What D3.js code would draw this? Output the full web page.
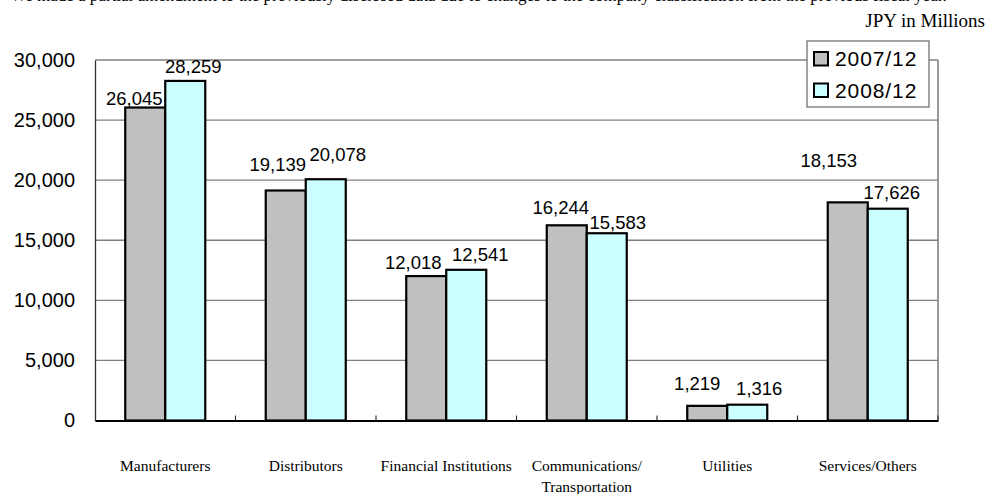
<!DOCTYPE html>
<html>
<head>
<meta charset="utf-8">
<script src="https://cdn.jsdelivr.net/npm/d3@7/dist/d3.min.js"></script>
<style>
  html, body { margin: 0; padding: 0; background: #fff; }
  svg { display: block; }
</style>
</head>
<body>
<svg id="chart" width="989" height="494"></svg>
<script>
// ---- data ----
const categories = ["Manufacturers", "Distributors", "Financial Institutions", "Communications/\nTransportation", "Utilities", "Services/Others"];
const seriesNames = ["2007/12", "2008/12"];
const values2007 = [26045, 19139, 12018, 16244, 1219, 18153];
const values2008 = [28259, 20078, 12541, 15583, 1316, 17626];
const yTicks = [0, 5000, 10000, 15000, 20000, 25000, 30000];
const unitLabel = "JPY in Millions";
const noteText = "*We made a partial amendment to the previously disclosed data due to changes to the company classification from the previous fiscal year.";

// ---- layout / style ----
const W = 989, H = 494;
const plot = { left: 95, right: 938, top: 60, bottom: 420.5 };
const colors = ["#c0c0c0", "#ccffff"];
// manual label nudges (dx, dy from bar-top centre), as placed in the original
const labelNudge = [
  [[-11, -2.5], [-8, -20], [-13, -7.5], [-6, -11], [-10, -15.5], [-19, -35]],
  [[8, -7.5], [12, -18.5], [14, -9], [11, -4], [12, -10], [4, -10]]
];

const svg = d3.select("#chart");

const x0 = d3.scaleBand().domain(d3.range(categories.length)).range([plot.left, plot.right]).padding(0);
const x1 = d3.scaleBand().domain([0, 1]).range([0, x0.bandwidth()]).paddingOuter(0.756).paddingInner(0);
const y = d3.scaleLinear().domain([0, 30000]).range([plot.bottom, plot.top]);

// note text at the top (mostly above the page edge, as in the original)
svg.append("text")
  .attr("x", 2).attr("y", 1)
  .attr("font-family", "Liberation Serif, Times New Roman, serif")
  .attr("font-size", 17)
  .attr("fill", "#000")
  .text(noteText);

// unit label
svg.append("text")
  .attr("x", 985).attr("y", 27)
  .attr("text-anchor", "end")
  .attr("font-family", "Liberation Serif, Times New Roman, serif")
  .attr("font-size", 19)
  .attr("fill", "#000")
  .text(unitLabel);

// gridlines
svg.append("g")
  .selectAll("line")
  .data(yTicks.filter(d => d > 0))
  .join("line")
  .attr("x1", plot.left).attr("x2", plot.right)
  .attr("y1", d => y(d)).attr("y2", d => y(d))
  .attr("stroke", "#808080").attr("stroke-width", 1.3);

// right border
svg.append("line")
  .attr("x1", plot.right).attr("x2", plot.right)
  .attr("y1", plot.top).attr("y2", plot.bottom)
  .attr("stroke", "#808080").attr("stroke-width", 1.6);

// y axis
const yAxis = d3.axisLeft(y).tickValues(yTicks).tickSize(0).tickPadding(20)
  .tickFormat(d3.format(","));
const gy = svg.append("g").attr("transform", `translate(${plot.left},0)`).call(yAxis);
gy.select(".domain").attr("stroke", "#333").attr("stroke-width", 1.3);
gy.selectAll("text")
  .attr("font-family", "Liberation Sans, Arial, sans-serif")
  .attr("font-size", 20)
  .attr("fill", "#000");

// bars
const series = [values2007, values2008];
const gBars = svg.append("g");
series.forEach((vals, s) => {
  gBars.selectAll(null)
    .data(vals)
    .join("rect")
    .attr("x", (d, i) => x0(i) + x1(s))
    .attr("y", d => y(d))
    .attr("width", x1.bandwidth())
    .attr("height", d => y(0) - y(d))
    .attr("fill", colors[s])
    .attr("stroke", "#000")
    .attr("stroke-width", 2.2);
});

// x axis
const xAxis = d3.axisBottom(x0).tickSize(0).tickFormat("");
const gx = svg.append("g").attr("transform", `translate(0,${plot.bottom})`).call(xAxis);
gx.select(".domain").attr("stroke", "#000").attr("stroke-width", 2);
// inside ticks at band boundaries
svg.append("g")
  .selectAll("line")
  .data(d3.range(1, categories.length + 1))
  .join("line")
  .attr("x1", i => plot.left + i * x0.bandwidth())
  .attr("x2", i => plot.left + i * x0.bandwidth())
  .attr("y1", plot.bottom).attr("y2", plot.bottom - 5)
  .attr("stroke", "#333").attr("stroke-width", 1.2);

// category labels
const catG = svg.append("g")
  .attr("font-family", "Liberation Serif, Times New Roman, serif")
  .attr("font-size", 15.5)
  .attr("fill", "#000")
  .attr("text-anchor", "middle");
categories.forEach((c, i) => {
  const t = catG.append("text")
    .attr("x", x0(i) + x0.bandwidth() / 2)
    .attr("y", 471);
  c.split("\n").forEach((line, k) => {
    t.append("tspan")
      .attr("x", x0(i) + x0.bandwidth() / 2)
      .attr("dy", k === 0 ? 0 : 21)
      .text(line);
  });
});

// value labels
const fmt = d3.format(",");
series.forEach((vals, s) => {
  svg.append("g").selectAll("text")
    .data(vals)
    .join("text")
    .attr("x", (d, i) => x0(i) + x1(s) + x1.bandwidth() / 2 + labelNudge[s][i][0])
    .attr("y", (d, i) => y(d) + labelNudge[s][i][1])
    .attr("text-anchor", "middle")
    .attr("font-family", "Liberation Sans, Arial, sans-serif")
    .attr("font-size", 18.5)
    .attr("fill", "#000")
    .text(d => fmt(d));
});

// legend
const lg = svg.append("g");
lg.append("rect")
  .attr("x", 807).attr("y", 41).attr("width", 122).attr("height", 66)
  .attr("fill", "#fff").attr("stroke", "#666").attr("stroke-width", 1.2);
seriesNames.forEach((name, s) => {
  lg.append("rect")
    .attr("x", 814).attr("y", 52 + s * 31.5).attr("width", 14).attr("height", 13.5)
    .attr("fill", colors[s]).attr("stroke", "#000").attr("stroke-width", 2);
  lg.append("text")
    .attr("x", 835).attr("y", 66 + s * 31.5)
    .attr("font-family", "Liberation Sans, Arial, sans-serif")
    .attr("font-size", 21)
    .attr("letter-spacing", 0.9)
    .attr("fill", "#000")
    .text(name);
});
</script>
</body>
</html>
